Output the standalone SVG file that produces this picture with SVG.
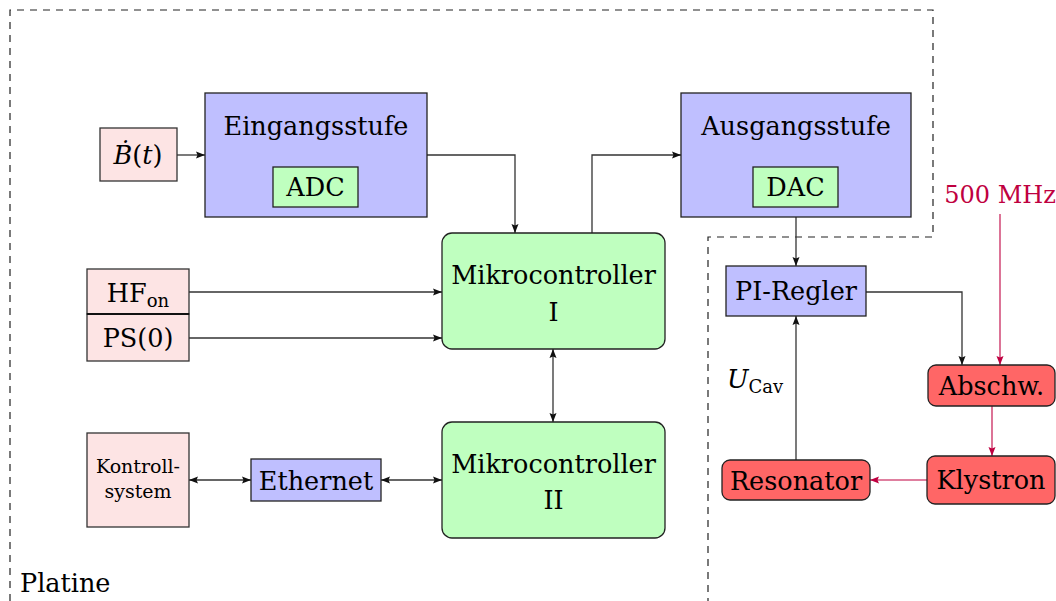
<svg xmlns="http://www.w3.org/2000/svg" width="1056" height="601" viewBox="0 0 1056 601">
<defs>
<marker id="ah" markerUnits="userSpaceOnUse" markerWidth="10" markerHeight="8" refX="9" refY="4" orient="auto-start-reverse"><path d="M0,0.5 L9,4 L0,7.5 L1.5,4 z" fill="#111"/></marker>
<marker id="ahr" markerUnits="userSpaceOnUse" markerWidth="10" markerHeight="8" refX="9" refY="4" orient="auto-start-reverse"><path d="M0,0.5 L9,4 L0,7.5 L1.5,4 z" fill="#bf0040"/></marker>
<style>
text{font-family:"DejaVu Serif","Liberation Serif",serif;fill:#000;text-anchor:middle}
.t{font-size:25.5px}
.s{font-size:18px}
.k{font-size:19px}
.blue{fill:#bfbfff;stroke:#222;stroke-width:1.3}
.green{fill:#bfffbf;stroke:#222;stroke-width:1.3}
.pink{fill:#fde4e4;stroke:#333;stroke-width:1.3}
.red{fill:#ff6666;stroke:#222;stroke-width:1.3}
.c{fill:none;stroke:#333;stroke-width:1.3}
.cr{fill:none;stroke:#bf0040;stroke-width:1.1}
.dash{fill:none;stroke:#222;stroke-width:1.2;stroke-dasharray:7 6}
</style>
</defs>
<g id="platine">
<path class="dash" d="M10,601 V10 H933 V237 H708 V601"/>
<text x="20" y="592" class="t" style="text-anchor:start">Platine</text>
</g>
<g id="connectors">
<path class="c" d="M177,155 H205" marker-end="url(#ah)"/>
<path class="c" d="M427,155 H515 V233" marker-end="url(#ah)"/>
<path class="c" d="M592,233 V155 H681" marker-end="url(#ah)"/>
<path class="c" d="M189,292 H442" marker-end="url(#ah)"/>
<path class="c" d="M189,338 H442" marker-end="url(#ah)"/>
<path class="c" d="M553,349 V422" marker-start="url(#ah)" marker-end="url(#ah)"/>
<path class="c" d="M189,480 H251" marker-start="url(#ah)" marker-end="url(#ah)"/>
<path class="c" d="M381,480 H442" marker-start="url(#ah)" marker-end="url(#ah)"/>
<path class="c" d="M796,217 V266" marker-end="url(#ah)"/>
<path class="c" d="M866,292 H962 V365" marker-end="url(#ah)"/>
<path class="c" d="M796,460 V316" marker-end="url(#ah)"/>
<path class="cr" d="M1000,214 V365" marker-end="url(#ahr)"/>
<path class="cr" d="M992,406 V456" marker-end="url(#ahr)"/>
<path class="cr" d="M927,480 H870" marker-end="url(#ahr)"/>
</g>
<g id="bdot">
<rect class="pink" x="100" y="128" width="77" height="53"/>
<text x="138" y="164" class="t"><tspan style="font-style:italic">Ḃ</tspan>(<tspan style="font-style:italic">t</tspan>)</text>
</g>
<g id="eingangsstufe">
<rect class="blue" x="205" y="93" width="222" height="124"/>
<text x="316" y="135" class="t">Eingangsstufe</text>
</g>
<g id="adc">
<rect class="green" x="273" y="167" width="85" height="40"/>
<text x="315.5" y="196" class="t">ADC</text>
</g>
<g id="ausgangsstufe">
<rect class="blue" x="681" y="93" width="230" height="124"/>
<text x="796" y="135" class="t">Ausgangsstufe</text>
</g>
<g id="dac">
<rect class="green" x="753" y="167" width="85" height="40"/>
<text x="795.5" y="196" class="t">DAC</text>
</g>
<g id="hf">
<rect class="pink" x="87" y="269" width="102" height="45"/>
<text x="138" y="302" class="t">HF<tspan class="s" dy="5">on</tspan></text>
</g>
<g id="ps0">
<rect class="pink" x="87" y="314" width="102" height="47"/>
<line x1="87" y1="314" x2="189" y2="314" stroke="#111" stroke-width="2"/>
<text x="138" y="347" class="t">PS(0)</text>
</g>
<g id="mc1">
<rect class="green" x="442" y="233" width="223" height="116" rx="10"/>
<text x="553.5" y="284" class="t">Mikrocontroller</text>
<text x="553.5" y="321" class="t">I</text>
</g>
<g id="mc2">
<rect class="green" x="442" y="422" width="223" height="116" rx="10"/>
<text x="553.5" y="473" class="t">Mikrocontroller</text>
<text x="553.5" y="509" class="t">II</text>
</g>
<g id="kontroll">
<rect class="pink" x="87" y="433" width="102" height="94"/>
<text x="138" y="473" class="k">Kontroll-</text>
<text x="138" y="498" class="k">system</text>
</g>
<g id="ethernet">
<rect class="blue" x="251" y="459" width="130" height="42"/>
<text x="316" y="490" class="t">Ethernet</text>
</g>
<g id="piregler">
<rect class="blue" x="726" y="266" width="140" height="50"/>
<text x="796" y="300" class="t">PI-Regler</text>
</g>
<g id="mhz">
<text x="1000" y="203" style="font-size:24px;fill:#bf0040">500 MHz</text>
</g>
<g id="abschw">
<rect class="red" x="928" y="365" width="127" height="41" rx="8"/>
<text x="991.5" y="395" class="t">Abschw.</text>
</g>
<g id="klystron">
<rect class="red" x="927" y="456" width="128" height="48" rx="8"/>
<text x="991" y="489" class="t">Klystron</text>
</g>
<g id="resonator">
<rect class="red" x="722" y="460" width="148" height="40" rx="8"/>
<text x="796" y="490" class="t">Resonator</text>
</g>
<g id="ucav">
<text x="727" y="388" class="t" style="text-anchor:start;font-style:italic">U<tspan class="s" dy="5" style="font-style:normal">Cav</tspan></text>
</g>
</svg>
